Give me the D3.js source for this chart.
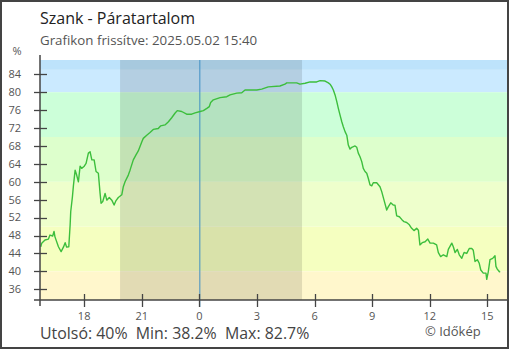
<!DOCTYPE html>
<html><head><meta charset="utf-8">
<script src="https://cdn.jsdelivr.net/npm/d3@7"></script>
<style>body{margin:0;background:#fff}svg{display:block}text{font-family:"Open Sans",sans-serif}</style>
</head><body><svg id="c" width="510" height="350"></svg>
<script>
// hours relative to midnight of 2025-05-02 (negative = previous day)
const hours = [-8.26,-8.21,-8.04,-7.86,-7.78,-7.64,-7.57,-7.52,-7.34,-7.20,-7.08,-6.99,-6.91,-6.80,-6.73,-6.70,-6.61,-6.56,-6.47,-6.39,-6.30,-6.21,-6.13,-6.01,-5.90,-5.78,-5.69,-5.60,-5.48,-5.38,-5.26,-5.17,-5.12,-5.03,-4.91,-4.82,-4.69,-4.56,-4.44,-4.34,-4.22,-4.04,-3.96,-3.87,-3.70,-3.61,-3.44,-3.30,-3.18,-3.00,-2.92,-2.74,-2.57,-2.40,-2.14,-2.01,-1.79,-1.61,-1.44,-1.27,-1.15,-0.92,-0.66,-0.40,-0.22,0.04,0.21,0.39,0.52,0.59,0.73,1.08,1.43,1.60,1.95,2.21,2.38,2.64,2.99,3.25,3.59,4.20,4.46,4.55,5.07,5.24,5.51,5.77,6.11,6.29,6.55,6.72,6.81,6.90,6.98,7.07,7.16,7.24,7.33,7.42,7.50,7.59,7.68,7.76,7.85,7.94,8.11,8.20,8.28,8.37,8.46,8.54,8.63,8.72,8.80,8.89,8.98,9.06,9.24,9.41,9.50,9.62,9.76,9.84,9.97,10.10,10.19,10.28,10.42,10.54,10.66,10.80,10.94,11.06,11.18,11.32,11.41,11.49,11.61,11.76,11.90,12.02,12.19,12.36,12.45,12.57,12.71,12.89,12.97,13.15,13.23,13.32,13.44,13.54,13.67,13.79,13.93,14.06,14.19,14.27,14.36,14.48,14.58,14.66,14.79,14.93,14.97,15.05,15.14,15.28,15.40,15.45,15.52,15.63,15.67];
const humidity = [45.5,46.3,47.0,47.2,48.1,47.9,48.9,47.7,45.5,44.4,45.4,46.4,45.4,45.5,50.4,53.3,56.7,59.1,62.6,61.5,60.0,63.5,63.0,63.4,64.1,66.4,66.7,64.9,64.9,62.3,61.9,57.4,55.2,55.6,57.4,55.9,56.5,55.9,54.8,55.8,56.5,57.1,58.9,60.0,61.5,62.6,64.9,66.0,66.9,68.9,69.7,70.4,71.0,71.7,71.9,72.5,72.7,73.4,74.3,75.3,75.9,75.7,75.1,75.1,75.4,75.7,75.9,76.4,76.8,77.7,78.3,78.8,79.0,79.4,79.8,79.9,80.5,80.5,80.5,80.7,81.2,81.4,81.8,82.1,82.1,81.8,82.0,82.3,82.3,82.6,82.5,82.1,81.8,81.2,80.5,79.4,77.9,76.4,74.9,73.4,72.3,71.2,70.4,68.2,67.3,67.7,68.0,67.7,66.4,65.6,64.5,63.0,62.3,61.9,60.8,59.3,59.1,59.8,59.8,58.9,57.8,55.9,53.7,54.4,55.3,54.8,54.8,52.4,52.2,51.6,51.1,50.9,50.4,49.6,49.1,49.6,49.2,45.9,46.4,46.6,47.2,46.3,46.3,45.9,44.2,43.3,43.7,43.3,44.9,46.3,45.5,44.2,44.9,43.7,42.9,44.2,44.0,45.1,45.1,44.7,42.2,42.6,41.8,40.3,39.6,39.6,38.2,39.9,42.6,42.9,43.5,41.1,40.5,39.9,40.0];
const xTickHours = [-6,-3,0,3,6,9,12,15];
const xTickLabels = ["18","21","0","3","6","9","12","15"];
const yTicks = [36,40,44,48,52,56,60,64,68,72,76,80,84];
const bandLower = [85,80,70,60,50,40,-100];
const bandColors = ["#bde3fb","#cbeaff","#ccffd9","#ddffcc","#eeffcc","#f5ffc0","#fff7cc"];
const night = [-4.13, 5.35];
const title = "Szank - Páratartalom";
const subtitle = "Grafikon frissítve: 2025.05.02 15:40";
const stats = "Utolsó: 40%  Min: 38.2%  Max: 82.7%";
const credit = "© Időkép";

const svg = d3.select("#c");
const L=40,R=509,T=60,B=300;
const x = d3.scaleLinear().domain([-8.3,16.13]).range([L,R]);
const y = d3.scaleLinear().domain([33.6,87.2]).range([B,T]);

// bands
const yTop = y.domain()[1];
bandLower.forEach((lo,i)=>{
  const hi = i===0 ? yTop : bandLower[i-1];
  const lo2 = Math.max(lo, y.domain()[0]);
  svg.append("rect").attr("x",L).attr("width",R-L)
    .attr("y",y(hi)).attr("height",y(lo2)-y(hi)).attr("fill",bandColors[i]);
});
// night
svg.append("rect").attr("x",x(night[0])).attr("width",x(night[1])-x(night[0]))
  .attr("y",T).attr("height",B-T).attr("fill","#000").attr("fill-opacity",0.115);
// midnight line
svg.append("line").attr("x1",x(0)+0.5).attr("x2",x(0)+0.5).attr("y1",T).attr("y2",B+7)
  .attr("stroke","#3f8fc4").attr("stroke-width",1);

// data line
const line = d3.line().x((d,i)=>x(hours[i])).y(d=>y(d));
svg.append("path").datum(humidity).attr("d",line).attr("fill","none")
  .attr("stroke","#3cbe3c").attr("stroke-width",1.4).attr("stroke-linejoin","round");

// axes
const ax = "#444";
svg.append("line").attr("x1",L).attr("x2",L).attr("y1",55).attr("y2",B+6).attr("stroke",ax).attr("stroke-width",1.5);
svg.append("line").attr("x1",L-6).attr("x2",R).attr("y1",B).attr("y2",B).attr("stroke",ax).attr("stroke-width",1.5);
const yg = svg.append("g");
yTicks.forEach(v=>{
  yg.append("line").attr("x1",L-6).attr("x2",L+7).attr("y1",Math.round(y(v))+0.5).attr("y2",Math.round(y(v))+0.5).attr("stroke",ax).attr("stroke-width",1.3);
  yg.append("text").attr("x",21).attr("y",y(v)).attr("dy","0.35em").attr("text-anchor","end")
    .attr("font-size",11).attr("fill","#555").text(v);
});
const xg = svg.append("g");
xTickHours.forEach((h,i)=>{
  xg.append("line").attr("x1",Math.round(x(h))+0.5).attr("x2",Math.round(x(h))+0.5).attr("y1",B-6).attr("y2",B+7).attr("stroke",ax).attr("stroke-width",1.3);
  xg.append("text").attr("x",x(h)).attr("y",319.5).attr("text-anchor","middle")
    .attr("font-size",11).attr("fill","#555").text(xTickLabels[i]);
});
svg.append("text").attr("x",17).attr("y",55).attr("text-anchor","middle").attr("font-size",11).attr("fill","#555").text("%");

// texts
svg.append("text").attr("x",40).attr("y",24).attr("font-size",16).attr("fill","#222").text(title);
svg.append("text").attr("x",40).attr("y",45).attr("font-size",13.3).attr("fill","#555").text(subtitle);
svg.append("text").attr("x",40).attr("y",339.3).attr("font-size",15.9).attr("fill","#444").style("white-space","pre").text(stats);
svg.append("text").attr("x",425).attr("y",336).attr("font-size",13).attr("fill","#555").text(credit);

// frame
svg.append("rect").attr("x",1).attr("y",1).attr("width",507).attr("height",347)
  .attr("fill","none").attr("stroke","#444").attr("stroke-width",2);
</script></body></html>
